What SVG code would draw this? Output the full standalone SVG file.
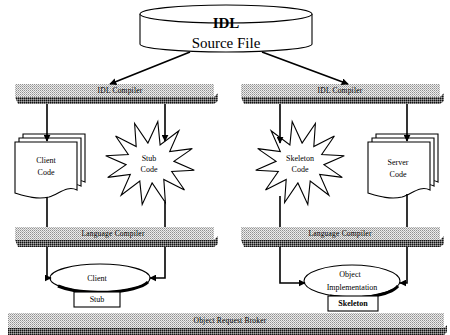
<svg xmlns="http://www.w3.org/2000/svg" width="450" height="335" viewBox="0 0 450 335">
<defs>
<pattern id="dither" width="2" height="2" patternUnits="userSpaceOnUse">
<rect width="2" height="2" fill="#ececec"/>
<rect width="1" height="1" fill="#909090"/>
<rect x="1" y="1" width="1" height="1" fill="#b4b4b4"/>
</pattern>
<pattern id="ditherDark" width="2" height="2" patternUnits="userSpaceOnUse">
<rect width="2" height="2" fill="#666"/>
<rect width="1" height="1" fill="#111"/>
<rect x="1" y="1" width="1" height="1" fill="#aaa"/>
</pattern>
<marker id="ah" viewBox="0 0 10 10" refX="9" refY="5" markerWidth="7" markerHeight="7" orient="auto" markerUnits="userSpaceOnUse">
<path d="M0,0 L10,5 L0,10 Z" fill="#000"/>
</marker>
<path id="star" d="M7.8,-41.4 L10.1,-18.1 L28.9,-32.2 L19.7,-11.5 L42.3,-14.4 L23.9,-1.7 L44.3,7.3 L21.7,8.5 L34.5,27 L13.8,16.4 L15.4,39.5 L2.1,19.9 L-7.8,41.4 L-10.2,18.1 L-28.9,32.2 L-19.7,11.5 L-42.3,14.4 L-23.9,1.7 L-44.3,-7.3 L-21.7,-8.5 L-34.4,-27 L-13.8,-16.4 L-15.4,-39.5 L-2.1,-19.9 Z"/>
<path id="doc" d="M0,0 H62 V48 C52,43 44,52 34,55 C22,58 10,54 0,51 Z"/>
</defs>
<style>
.bar{fill:url(#dither);}
.shadow{fill:url(#ditherDark);}
.barText{font-family:"Liberation Serif",serif;font-size:7.5px;fill:#000;text-anchor:middle;letter-spacing:0.2px;}
.nodeText{font-family:"Liberation Serif",serif;font-size:8px;fill:#000;text-anchor:middle;}
.shape{fill:#fff;stroke:#000;stroke-width:1.1;}
.conn{fill:none;stroke:#000;stroke-width:1.6;}
.big{font-family:"Liberation Serif",serif;font-size:15px;fill:#000;text-anchor:middle;}
</style>

<g id="idl-source">
<path class="shape" d="M140,14 V44 A86,8 0 0 0 312,44 V14"/>
<ellipse class="shape" cx="226" cy="14" rx="86" ry="9"/>
<text class="big" x="226" y="28" font-weight="bold">IDL</text>
<text class="big" x="226" y="48" font-size="16">Source File</text>
</g>

<g id="idl-compiler-left">
<path class="shadow" d="M15,97 H214 L218,93 V101 L214,104 H18 Z"/>
<rect class="bar" x="15" y="84" width="199" height="13"/>
<text class="barText" x="120" y="93">IDL Compiler</text>
</g>
<g id="idl-compiler-right">
<path class="shadow" d="M241,97 H440 L444,93 V101 L440,104 H244 Z"/>
<rect class="bar" x="241" y="84" width="199" height="13"/>
<text class="barText" x="340" y="93">IDL Compiler</text>
</g>

<g id="client-code">
<use href="#doc" class="shape" transform="translate(23,134)"/>
<use href="#doc" class="shape" transform="translate(19,138)"/>
<use href="#doc" class="shape" transform="translate(15,142)"/>
<text class="nodeText" x="46" y="163">Client</text>
<text class="nodeText" x="46" y="175">Code</text>
</g>

<g id="stub-code">
<use href="#star" class="shape" transform="translate(150,163)"/>
<text class="nodeText" x="149" y="161">Stub</text>
<text class="nodeText" x="149" y="172">Code</text>
</g>

<g id="skeleton-code">
<use href="#star" class="shape" transform="translate(300,163) scale(-1,1)"/>
<text class="nodeText" x="300" y="161">Skeleton</text>
<text class="nodeText" x="300" y="172">Code</text>
</g>

<g id="server-code">
<use href="#doc" class="shape" transform="translate(376,134)"/>
<use href="#doc" class="shape" transform="translate(372,138)"/>
<use href="#doc" class="shape" transform="translate(368,142)"/>
<text class="nodeText" x="398" y="165">Server</text>
<text class="nodeText" x="398" y="177">Code</text>
</g>

<g id="lang-compiler-left">
<path class="shadow" d="M15,240 H214 L218,236 V244 L214,247 H18 Z"/>
<rect class="bar" x="15" y="227" width="199" height="13"/>
<text class="barText" x="113" y="236">Language Compiler</text>
</g>
<g id="lang-compiler-right">
<path class="shadow" d="M241,240 H440 L444,236 V244 L440,247 H244 Z"/>
<rect class="bar" x="241" y="227" width="199" height="13"/>
<text class="barText" x="340" y="236">Language Compiler</text>
</g>

<g id="orb">
<path class="shadow" d="M8,328 H444 L447,325 V332 L444,335 H8 Z"/>
<rect class="bar" x="8" y="313" width="436" height="15"/>
<text class="barText" x="230" y="323">Object Request Broker</text>
</g>

<g id="client">
<ellipse class="shape" cx="100" cy="278" rx="50" ry="14"/>
<path d="M58,286 A50,14 0 0 0 148,282" fill="none" stroke="#000" stroke-width="3"/>
<text class="nodeText" x="97" y="281">Client</text>
</g>
<g id="stub">
<rect class="shape" x="74" y="292" width="46" height="15"/>
<text class="nodeText" x="97" y="302">Stub</text>
</g>

<g id="object-implementation">
<ellipse class="shape" cx="352" cy="281" rx="48" ry="16"/>
<path d="M330,296 A48,16 0 0 0 398,286" fill="none" stroke="#000" stroke-width="3"/>
<text class="nodeText" x="350" y="277">Object</text>
<text class="nodeText" x="352" y="290">Implementation</text>
</g>
<g id="skeleton">
<rect class="shape" x="328" y="296" width="50" height="15"/>
<text class="nodeText" x="353" y="306" font-family="Liberation Sans, sans-serif" font-weight="bold" font-size="7">Skeleton</text>
</g>

<g id="connectors">
<line class="conn" x1="190" y1="52" x2="110" y2="84" marker-end="url(#ah)"/>
<line class="conn" x1="262" y1="52" x2="348" y2="84" marker-end="url(#ah)"/>
<line class="conn" x1="47" y1="104" x2="47" y2="141" marker-end="url(#ah)"/>
<line class="conn" x1="165" y1="104" x2="165" y2="141" marker-end="url(#ah)"/>
<line class="conn" x1="280" y1="104" x2="280" y2="143" marker-end="url(#ah)"/>
<line class="conn" x1="407" y1="104" x2="407" y2="141" marker-end="url(#ah)"/>
<line class="conn" x1="47" y1="197" x2="47" y2="227"/>
<line class="conn" x1="165" y1="202" x2="165" y2="227"/>
<line class="conn" x1="280" y1="196" x2="280" y2="227"/>
<line class="conn" x1="407" y1="194" x2="407" y2="227"/>
<path class="conn" d="M47,247 V278 H51" marker-end="url(#ah)"/>
<path class="conn" d="M165,247 V278 H150" marker-end="url(#ah)"/>
<path class="conn" d="M280,247 V283 H305" marker-end="url(#ah)"/>
<path class="conn" d="M407,247 V283 H400" marker-end="url(#ah)"/>
</g>
</svg>
